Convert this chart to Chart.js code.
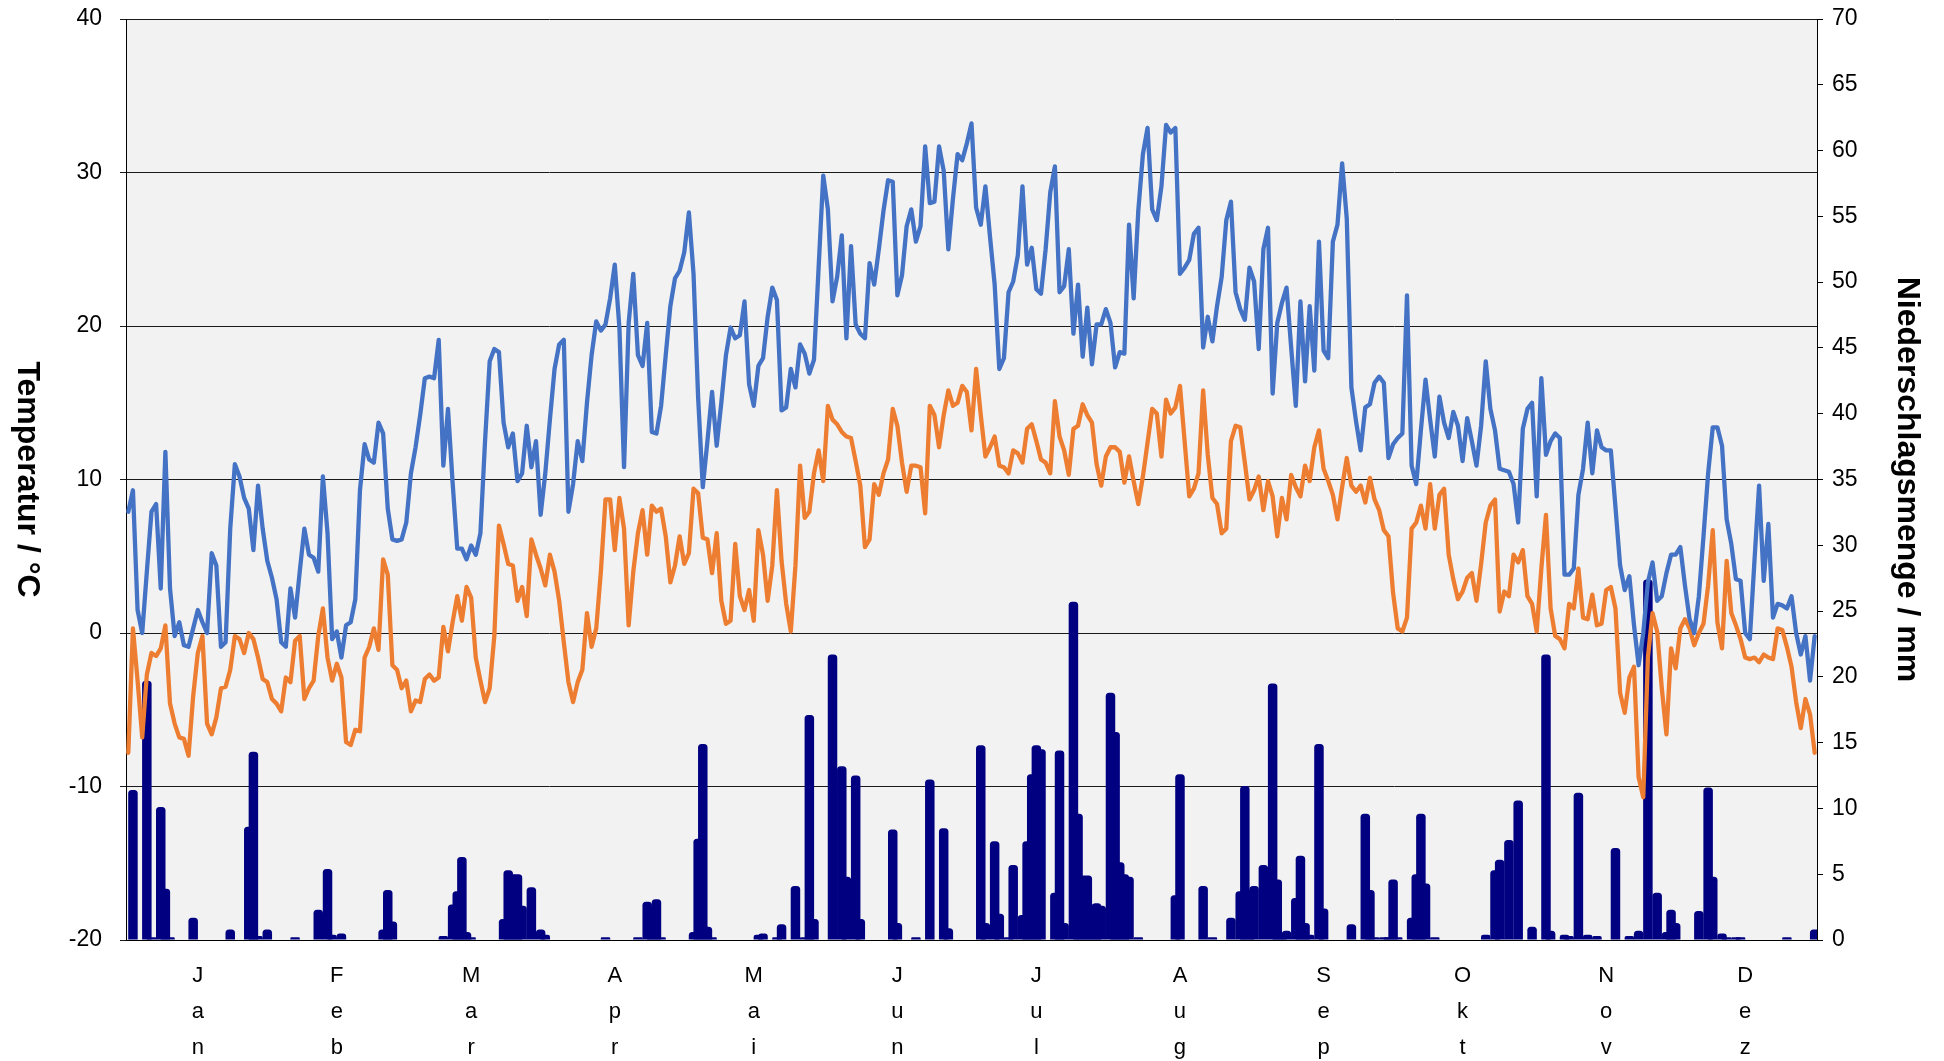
<!DOCTYPE html>
<html lang="de">
<head>
<meta charset="utf-8">
<title>Temperatur und Niederschlag</title>
<script src="https://cdn.jsdelivr.net/npm/chart.js@4.4.1/dist/chart.umd.min.js"></script>
<style>
  html, body { margin: 0; padding: 0; background: #fff; }
  #wrap { position: relative; width: 1944px; height: 1061px; }
</style>
</head>
<body>
<div id="wrap"><canvas id="klima"></canvas></div>
<script>
'use strict';

// Monate und Tage je Monat
const monate = ['Jan', 'Feb', 'Mar', 'Apr', 'Mai', 'Jun', 'Jul', 'Aug', 'Sep', 'Okt', 'Nov', 'Dez'];
const tageProMonat = [31, 28, 31, 30, 31, 30, 31, 31, 30, 31, 30, 31];

// Tageshöchsttemperatur in °C
const tmax = [
    7.9, 9.3, 1.5, 0.0, 4.0, 7.9, 8.4, 2.9, 11.8, 2.9, -0.2, 0.7, -0.8, -0.9, 0.3, 1.5, 0.7, 0.0, 5.2, 4.4, -0.9, -0.6, 6.8, 11.0, 10.2, 8.8, 8.1, 5.4, 9.6, 6.8, 4.7,
    3.6, 2.2, -0.6, -0.9, 2.9, 1.0, 4.0, 6.8, 5.1, 4.9, 4.0, 10.2, 6.5, -0.4, 0.1, -1.6, 0.5, 0.7, 2.2, 9.3, 12.3, 11.3, 11.1, 13.7, 13.0, 8.1, 6.1, 6.0,
    6.1, 7.2, 10.4, 12.1, 14.2, 16.6, 16.7, 16.6, 19.1, 10.9, 14.6, 9.8, 5.5, 5.5, 4.8, 5.7, 5.1, 6.5, 12.5, 17.7, 18.5, 18.3, 13.7, 12.1, 13.0, 9.9, 10.4, 13.5, 10.8, 12.5, 7.7,
    10.4, 13.9, 17.2, 18.8, 19.1, 7.9, 9.7, 12.5, 11.2, 15.0, 18.1, 20.3, 19.7, 20.1, 21.8, 24.0, 19.9, 10.8, 20.2, 23.4, 18.1, 17.4, 20.2, 13.1, 13.0, 14.8, 18.1, 21.3, 23.1, 23.6,
    24.8, 27.4, 23.4, 15.3, 9.5, 12.5, 15.7, 12.2, 15.0, 18.1, 19.9, 19.2, 19.4, 21.6, 16.2, 14.8, 17.4, 17.9, 20.6, 22.5, 21.7, 14.5, 14.7, 17.2, 16.0, 18.8, 18.2, 16.9, 17.8, 23.8, 29.8,
    27.6, 21.6, 23.2, 25.9, 19.2, 25.2, 20.1, 19.5, 19.2, 24.1, 22.7, 25.0, 27.5, 29.5, 29.4, 22.0, 23.3, 26.5, 27.6, 25.5, 26.5, 31.7, 28.0, 28.1, 31.7, 30.1, 25.0, 28.3, 31.2, 30.8,
    31.9, 33.2, 27.7, 26.6, 29.1, 25.8, 22.7, 17.2, 17.9, 22.2, 22.9, 24.6, 29.1, 24.0, 25.1, 22.4, 22.1, 25.0, 28.7, 30.4, 22.2, 22.6, 25.0, 19.5, 22.7, 18.0, 21.2, 17.5, 20.1, 20.1, 21.1,
    20.2, 17.3, 18.3, 18.2, 26.6, 21.8, 27.5, 31.2, 32.9, 27.6, 26.9, 29.1, 33.1, 32.6, 32.9, 23.4, 23.8, 24.3, 26.0, 26.4, 18.6, 20.6, 19.0, 21.3, 23.2, 26.9, 28.1, 22.2, 21.1, 20.4, 23.8,
    22.9, 18.5, 25.0, 26.4, 15.6, 20.2, 21.5, 22.5, 18.6, 14.8, 21.6, 16.4, 21.3, 17.1, 25.5, 18.4, 17.9, 25.5, 26.6, 30.6, 27.0, 16.0, 13.8, 11.9, 14.7, 14.9, 16.3, 16.7, 16.3, 11.4,
    12.3, 12.7, 13.0, 22.0, 10.9, 9.7, 13.2, 16.5, 13.9, 11.5, 15.4, 13.7, 12.7, 14.4, 13.5, 11.2, 14.0, 12.5, 10.9, 13.5, 17.7, 14.6, 13.2, 10.7, 10.6, 10.5, 9.7, 7.2, 13.3, 14.6, 15.0,
    8.9, 16.6, 11.6, 12.5, 13.0, 12.7, 3.8, 3.8, 4.2, 9.0, 10.7, 13.7, 10.4, 13.2, 12.1, 11.9, 11.9, 8.2, 4.4, 2.8, 3.7, 0.5, -2.1, 0.0, 3.3, 4.6, 2.1, 2.4, 3.9, 5.1,
    5.1, 5.6, 3.1, 0.9, 0.0, 2.4, 6.3, 10.4, 13.4, 13.4, 12.2, 7.4, 5.8, 3.5, 3.4, 0.0, -0.4, 4.7, 9.6, 3.4, 7.1, 1.0, 1.9, 1.8, 1.6, 2.4, 0.0, -1.4, -0.2, -3.1, -0.2
];

// Tagestiefsttemperatur in °C
const tmin = [
    -7.8, 0.3, -3.1, -6.8, -2.7, -1.3, -1.5, -1.0, 0.5, -4.6, -5.9, -6.8, -6.9, -8.0, -4.1, -1.3, -0.2, -5.9, -6.6, -5.5, -3.6, -3.5, -2.4, -0.2, -0.4, -1.3, 0.0, -0.4, -1.6, -3.0, -3.2,
    -4.3, -4.6, -5.1, -2.9, -3.2, -0.5, -0.2, -4.3, -3.6, -3.1, -0.2, 1.6, -1.6, -3.1, -2.0, -2.9, -7.1, -7.3, -6.3, -6.4, -1.6, -0.9, 0.3, -1.1, 4.8, 3.8, -2.1, -2.4,
    -3.6, -3.1, -5.1, -4.4, -4.5, -3.0, -2.7, -3.1, -2.9, 0.4, -1.2, 0.7, 2.4, 0.8, 3.0, 2.3, -1.6, -3.1, -4.5, -3.6, -0.2, 7.0, 5.8, 4.5, 4.4, 2.1, 3.0, 1.1, 6.1, 5.1, 4.2,
    3.1, 5.1, 4.0, 2.1, -0.6, -3.2, -4.5, -3.2, -2.4, 1.3, -0.9, 0.3, 4.0, 8.7, 8.7, 5.4, 8.8, 6.8, 0.5, 4.0, 6.5, 8.0, 5.1, 8.3, 7.9, 8.1, 6.3, 3.3, 4.4, 6.3,
    4.5, 5.2, 9.4, 9.1, 6.2, 6.1, 3.9, 6.5, 2.1, 0.6, 0.8, 5.8, 2.4, 1.5, 2.8, 0.8, 6.7, 5.1, 2.1, 4.4, 9.3, 4.7, 1.9, 0.1, 4.4, 10.9, 7.5, 7.9, 10.4, 11.9, 9.9,
    14.8, 13.9, 13.6, 13.1, 12.8, 12.7, 11.2, 9.6, 5.6, 6.1, 9.7, 9.0, 10.4, 11.3, 14.6, 13.5, 11.1, 9.2, 10.9, 10.9, 10.8, 7.8, 14.8, 14.2, 12.1, 14.2, 15.8, 14.8, 15.0, 16.1,
    15.7, 13.2, 17.2, 14.2, 11.5, 12.1, 12.8, 10.9, 10.8, 10.4, 11.9, 11.7, 11.1, 13.3, 13.6, 12.5, 11.3, 11.1, 10.4, 15.1, 12.8, 11.9, 10.3, 13.3, 13.5, 14.9, 14.2, 13.7, 11.0, 9.6, 11.5,
    12.1, 12.1, 11.8, 9.8, 11.5, 9.9, 8.4, 10.2, 12.4, 14.6, 14.3, 11.5, 15.2, 14.3, 14.7, 16.1, 12.5, 8.9, 9.4, 10.4, 15.8, 11.6, 8.8, 8.4, 6.5, 6.8, 12.5, 13.5, 13.4, 11.1, 8.7,
    9.3, 10.2, 8.0, 9.9, 8.9, 6.3, 8.8, 7.4, 10.3, 9.5, 8.9, 10.9, 9.9, 12.1, 13.2, 10.7, 9.9, 9.0, 7.4, 9.5, 11.4, 9.6, 9.2, 9.6, 8.5, 10.1, 8.7, 8.0, 6.7, 6.3,
    2.6, 0.3, 0.1, 1.0, 6.8, 7.2, 8.3, 6.8, 9.7, 6.8, 9.0, 9.4, 5.1, 3.5, 2.2, 2.7, 3.6, 3.9, 2.1, 4.5, 7.2, 8.3, 8.7, 1.4, 2.7, 2.4, 5.1, 4.6, 5.4, 2.4, 1.9,
    0.1, 4.2, 7.7, 1.6, -0.2, -0.4, -1.0, 1.9, 1.6, 4.2, 1.0, 0.9, 2.5, 0.5, 0.6, 2.8, 3.0, 1.6, -3.9, -5.2, -2.9, -2.2, -9.4, -10.7, -1.6, 1.3, 0.1, -3.6, -6.6, -1.0,
    -2.3, 0.3, 0.9, 0.3, -0.8, 0.0, 0.6, 3.1, 6.7, 0.7, -1.0, 4.7, 1.3, 0.5, -0.4, -1.6, -1.7, -1.6, -1.9, -1.4, -1.6, -1.7, 0.3, 0.2, -0.9, -2.2, -4.5, -6.2, -4.3, -5.3, -7.8
];

// Tagesniederschlag in mm
const niederschlag = [
    0, 11.4, 0, 0, 19.7, 0.2, 0, 10.1, 3.9, 0.2, 0, 0, 0, 0, 1.7, 0, 0, 0, 0, 0, 0, 0, 0.8, 0, 0, 0, 8.6, 14.3, 0.3, 0, 0.8,
    0, 0, 0, 0, 0, 0.2, 0, 0, 0, 0, 2.3, 0, 5.4, 0.4, 0, 0.5, 0, 0, 0, 0, 0, 0, 0, 0, 0.8, 3.8, 1.4, 0,
    0, 0, 0, 0, 0, 0, 0, 0, 0, 0.3, 0, 2.7, 3.7, 6.3, 0.6, 0.2, 0, 0, 0, 0, 0, 0, 1.6, 5.3, 5.0, 5.0, 2.6, 0, 4.0, 0, 0.8,
    0.4, 0, 0, 0, 0, 0, 0, 0, 0, 0, 0, 0, 0, 0.2, 0, 0, 0, 0, 0, 0, 0.2, 0, 2.9, 2.5, 3.1, 0.2, 0, 0, 0, 0,
    0, 0, 0.6, 7.7, 14.9, 1.0, 0.2, 0, 0, 0, 0, 0, 0, 0, 0, 0, 0.4, 0.5, 0, 0, 0.2, 1.2, 0, 0, 4.1, 0, 0.2, 17.1, 1.6, 0, 0,
    0, 21.7, 0, 13.2, 4.8, 0, 12.5, 1.6, 0, 0, 0, 0, 0, 0, 8.4, 1.3, 0, 0, 0, 0.2, 0, 0, 12.2, 0, 0, 8.5, 0.9, 0, 0, 0,
    0, 0, 0, 14.8, 1.3, 0, 7.5, 2.0, 0, 0.2, 5.7, 0, 1.9, 7.5, 12.6, 14.8, 14.5, 0, 0, 3.6, 14.4, 1.3, 0, 25.7, 9.6, 4.9, 4.9, 2.7, 2.8, 2.6, 0,
    18.8, 15.8, 5.9, 5.0, 4.8, 0, 0.2, 0, 0, 0, 0, 0, 0, 0, 3.4, 12.6, 0, 0, 0, 0, 4.1, 0, 0.2, 0, 0, 0, 1.7, 0, 3.7, 11.7, 3.8,
    4.1, 0, 5.7, 0, 19.5, 4.6, 0.2, 0.7, 0, 3.2, 6.4, 1.3, 0.4, 0, 14.9, 2.4, 0, 0, 0, 0, 0, 1.2, 0, 0, 9.6, 3.8, 0.2, 0, 0.2, 0.2,
    4.6, 0.2, 0, 0, 1.7, 5.0, 9.6, 4.3, 0, 0.2, 0, 0, 0, 0, 0, 0, 0, 0, 0, 0, 0.4, 0, 5.3, 6.1, 0, 7.6, 0, 10.6, 0, 0, 1.0,
    0, 0, 21.7, 0.7, 0, 0, 0.4, 0.3, 0, 11.2, 0, 0.4, 0, 0.3, 0, 0, 0, 7.0, 0, 0, 0.3, 0, 0.7, 0, 27.4, 0, 3.6, 0, 0.6, 2.3,
    1.3, 0, 0, 0, 0, 2.2, 0, 11.6, 4.8, 0, 0.5, 0.2, 0, 0.2, 0.2, 0, 0, 0, 0, 0, 0, 0, 0, 0, 0.2, 0, 0, 0, 0, 0, 0.8
];

// Achsenbereiche
const tempAchse = { min: -20, max: 40, schritt: 10 };
const regenAchse = { min: 0, max: 70, schritt: 5 };

// Zeichenfläche in Pixeln
const BREITE = 1944;
const HOEHE = 1061;
const FLAECHE = { links: 126, rechts: 1817, oben: 19, unten: 940 };

const SCHRIFT = '"Liberation Sans", Arial, sans-serif';

// Ein Label pro Tag, Monatsnamen senkrecht in der Monatsmitte
const tage = [];
const monatsMitte = {};
let tagIndex = 0;
tageProMonat.forEach((anzahl, m) => {
    monatsMitte[tagIndex + Math.floor(anzahl / 2)] = monate[m].split('');
    for (let t = 1; t <= anzahl; t++) {
        tage.push(t + '.' + (m + 1) + '.');
    }
    tagIndex += anzahl;
});

/**
 * Hintergrund: weiß außen, hellgrau im Diagrammbereich
 */
const hintergrund = {
    id: 'hintergrund',
    beforeDraw(chart) {
        const { ctx, chartArea: a } = chart;
        ctx.save();
        ctx.fillStyle = '#ffffff';
        ctx.fillRect(0, 0, chart.width, chart.height);
        ctx.fillStyle = '#f2f2f2';
        ctx.fillRect(a.left, a.top, a.right - a.left, a.bottom - a.top);
        ctx.restore();
    }
};

/**
 * Achsentitel, beide von oben nach unten gedreht
 */
const achsenTitel = {
    id: 'achsenTitel',
    afterDraw(chart) {
        const { ctx, chartArea: a } = chart;
        const mitte = (a.top + a.bottom) / 2;
        ctx.save();
        ctx.fillStyle = '#000';
        ctx.font = 'bold 32px ' + SCHRIFT;
        ctx.textAlign = 'center';
        ctx.textBaseline = 'middle';
        [[27, 'Temperatur / °C'], [1907, 'Niederschlagsmenge / mm']].forEach(([x, text]) => {
            ctx.save();
            ctx.translate(x, mitte);
            ctx.rotate(Math.PI / 2);
            ctx.fillText(text, 0, 0);
            ctx.restore();
        });
        ctx.restore();
    }
};

/**
 * Feste Breite der senkrechten Achsen, ohne Zusatzabstand oben/unten
 */
function festeBreite(breite) {
    return (scale) => {
        scale.width = breite;
        scale.paddingTop = 0;
        scale.paddingBottom = 0;
    };
}

Chart.defaults.font.family = SCHRIFT;
Chart.defaults.color = '#000';

const canvas = document.getElementById('klima');

new Chart(canvas, {
    type: 'bar',
    data: {
        labels: tage,
        datasets: [
            {
                type: 'line',
                label: 'Maximum',
                data: tmax,
                yAxisID: 'y',
                borderColor: '#4472c4',
                borderWidth: 4.3,
                borderJoinStyle: 'round',
                borderCapStyle: 'round',
                pointRadius: 0,
                tension: 0,
                order: 1
            },
            {
                type: 'line',
                label: 'Minimum',
                data: tmin,
                yAxisID: 'y',
                borderColor: '#ed7d31',
                borderWidth: 4.3,
                borderJoinStyle: 'round',
                borderCapStyle: 'round',
                pointRadius: 0,
                tension: 0,
                order: 2
            },
            {
                type: 'bar',
                label: 'Niederschlag',
                data: niederschlag,
                yAxisID: 'y1',
                backgroundColor: '#000080',
                borderWidth: 0,
                borderRadius: 3.5,
                barPercentage: 2.05,
                categoryPercentage: 1.0,
                order: 3
            }
        ]
    },
    options: {
        responsive: true,
        maintainAspectRatio: false,
        animation: false,
        layout: { padding: { top: FLAECHE.oben, left: 0, right: 0, bottom: 0 } },
        plugins: {
            legend: { display: false },
            tooltip: { enabled: false }
        },
        scales: {
            x: {
                grid: { display: false, drawTicks: true, tickLength: 8 },
                border: { display: true, color: '#000', width: 1 },
                ticks: {
                    autoSkip: false,
                    maxRotation: 0,
                    minRotation: 0,
                    padding: 10,
                    font: { size: 22, lineHeight: 36 / 22 },
                    callback: (value, index) => monatsMitte[index] || ''
                },
                afterFit: (scale) => {
                    scale.height = HOEHE - FLAECHE.unten;
                    scale.paddingLeft = 0;
                    scale.paddingRight = 0;
                }
            },
            y: {
                position: 'left',
                min: tempAchse.min,
                max: tempAchse.max,
                grid: { color: '#1a1a1a', lineWidth: 1, tickLength: 6 },
                border: { display: true, color: '#000', width: 1 },
                ticks: { stepSize: tempAchse.schritt, padding: 18, font: { size: 23 } },
                afterFit: festeBreite(FLAECHE.links)
            },
            y1: {
                position: 'right',
                min: regenAchse.min,
                max: regenAchse.max,
                grid: { drawOnChartArea: false, color: '#000', tickLength: 6 },
                border: { display: true, color: '#000', width: 1 },
                ticks: { stepSize: regenAchse.schritt, padding: 9, font: { size: 23 } },
                afterFit: festeBreite(BREITE - FLAECHE.rechts)
            }
        }
    },
    plugins: [hintergrund, achsenTitel]
});
</script>
</body>
</html>
